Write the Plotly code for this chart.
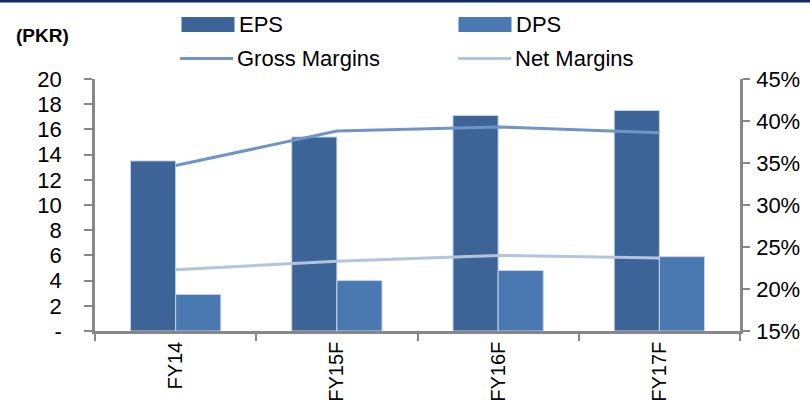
import plotly.graph_objects as go

categories = ["FY14", "FY15F", "FY16F", "FY17F"]
eps = [13.5, 15.4, 17.1, 17.5]
dps = [2.9, 4.0, 4.8, 5.9]
gross_margins = [0.347, 0.388, 0.393, 0.386]
net_margins = [0.223, 0.233, 0.240, 0.237]
left_ticks = [0, 2, 4, 6, 8, 10, 12, 14, 16, 18, 20]
left_ticktext = ["-"] + [str(v) for v in left_ticks[1:]]
right_ticks = [0.15, 0.20, 0.25, 0.30, 0.35, 0.40, 0.45]

C_EPS = "#3C6496"
C_DPS = "#4A78B0"
C_GROSS = "#7094C8"
C_NET = "#B4C4DE"
AXIS = "#878787"
FONT = "Liberation Sans, Arial, sans-serif"

W, H = 810, 415
ML, MR, MT, MB = 95, 70, 79, 84
PW, PH = W - ML - MR, H - MT - MB


def px(x):
    return (x - ML) / PW


def py(y):
    return (H - MB - y) / PH


fig = go.Figure()
fig.add_trace(go.Bar(x=categories, y=eps, name="EPS", marker=dict(color=C_EPS, line=dict(color="#C5D3E8", width=1)), showlegend=False))
fig.add_trace(go.Bar(x=categories, y=dps, name="DPS", marker=dict(color=C_DPS, line=dict(color="#C5D3E8", width=1)), showlegend=False))
fig.add_trace(go.Scatter(x=categories, y=gross_margins, name="Gross Margins", mode="lines", line=dict(color=C_GROSS, width=3), yaxis="y2", showlegend=False))
fig.add_trace(go.Scatter(x=categories, y=net_margins, name="Net Margins", mode="lines", line=dict(color=C_NET, width=3), yaxis="y2", showlegend=False))

shapes = []
annotations = []
# top border
shapes.append(dict(type="rect", xref="paper", yref="paper", x0=px(0), x1=px(W), y0=py(2.5), y1=py(0), fillcolor="#0B2A66", line=dict(width=0)))

# manual legend
legend_items = [
    ("EPS", "box", C_EPS, 181.5, 24.5),
    ("DPS", "box", C_DPS, 458.5, 24.5),
    ("Gross Margins", "line", C_GROSS, 180, 58.5),
    ("Net Margins", "line", C_NET, 458, 58.5),
]
for label, kind, color, x0, yc in legend_items:
    if kind == "box":
        shapes.append(dict(type="rect", xref="paper", yref="paper", x0=px(x0), x1=px(x0 + 53), y0=py(yc + 7.5), y1=py(yc - 7.5), fillcolor=color, line=dict(width=0)))
    else:
        shapes.append(dict(type="line", xref="paper", yref="paper", x0=px(x0), x1=px(x0 + 53), y0=py(yc), y1=py(yc), line=dict(color=color, width=3)))
    annotations.append(dict(text=label, xref="paper", yref="paper", x=px(x0 + 55), y=py(yc), xanchor="left", yanchor="middle", showarrow=False, font=dict(family=FONT, size=22, color="#000000")))

annotations.append(dict(text="<b>(PKR)</b>", xref="paper", yref="paper", x=px(14), y=py(36), xanchor="left", yanchor="middle", showarrow=False, font=dict(family=FONT, size=19, color="#000000")))

fig.update_layout(
    width=W, height=H,
    margin=dict(l=ML, r=MR, t=MT, b=MB, pad=0),
    paper_bgcolor="white", plot_bgcolor="white",
    barmode="group", bargap=0.44, bargroupgap=0,
    shapes=shapes, annotations=annotations,
    showlegend=False,
    xaxis=dict(
        type="category", showgrid=False, zeroline=False, automargin=False,
        showline=True, linecolor=AXIS, linewidth=2.5,
        ticks="outside", tickson="boundaries", ticklen=7, tickcolor=AXIS, tickwidth=2,
        tickangle=-90, tickfont=dict(family=FONT, size=20, color="#000000"),
    ),
    yaxis=dict(
        range=[0, 20], tickvals=left_ticks, ticktext=left_ticktext,
        showgrid=False, zeroline=False, automargin=False,
        showline=True, linecolor=AXIS, linewidth=2.5,
        ticks="outside", ticklen=8, tickcolor=AXIS, tickwidth=2,
        ticklabelstandoff=18,
        tickfont=dict(family=FONT, size=22, color="#000000"),
    ),
    yaxis2=dict(
        range=[0.15, 0.45], tickvals=right_ticks, tickformat=".0%",
        overlaying="y", side="right", automargin=False,
        showgrid=False, zeroline=False,
        showline=True, linecolor=AXIS, linewidth=2.5,
        ticks="outside", ticklen=7, tickcolor=AXIS, tickwidth=2,
        ticklabelstandoff=2,
        tickfont=dict(family=FONT, size=22, color="#000000"),
    ),
)

fig.write_html(
    "out.html",
    config={"displayModeBar": False},
    post_script="document.body.style.margin='0';document.body.style.overflow='hidden';",
)
